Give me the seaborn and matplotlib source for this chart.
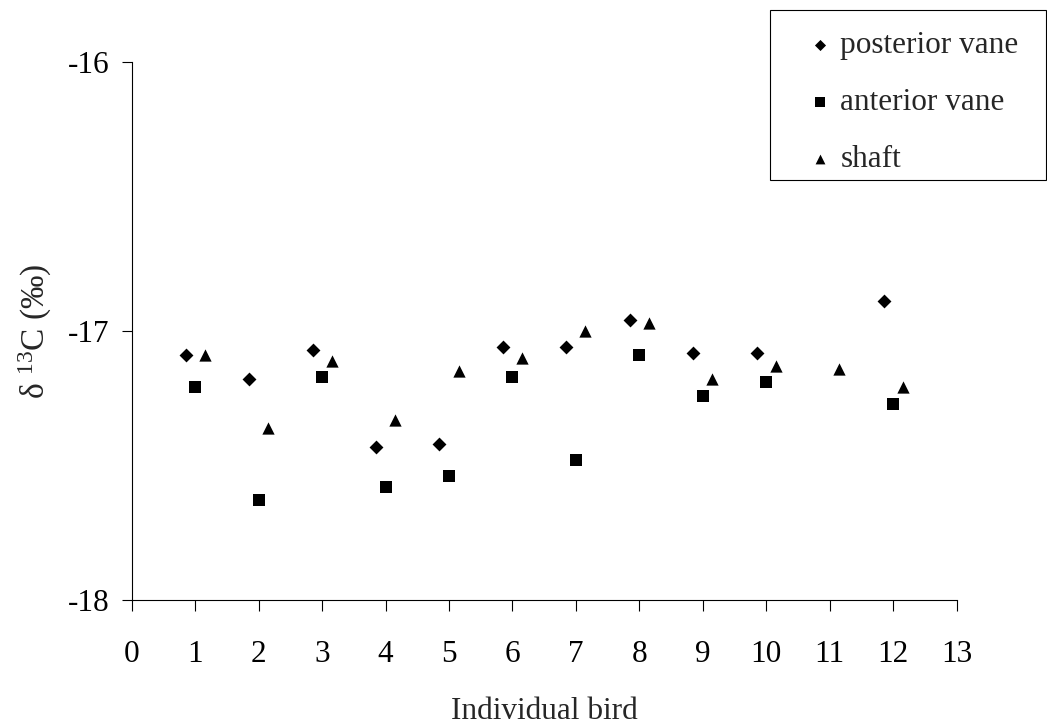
import numpy as np
import pandas as pd
import matplotlib
matplotlib.use("Agg")
import matplotlib.pyplot as plt
from matplotlib.patches import Rectangle
import seaborn as sns

# ---- data ----
birds = [1, 2, 3, 4, 5, 6, 7, 8, 9, 10, 11, 12]
posterior_vane = [-17.09, -17.18, -17.07, -17.43, -17.42, -17.06, -17.06, -16.96, -17.08, -17.08, np.nan, -16.89]
anterior_vane = [-17.21, -17.63, -17.17, -17.58, -17.54, -17.17, -17.48, -17.09, -17.24, -17.19, np.nan, -17.27]
shaft = [-17.09, -17.36, -17.11, -17.33, -17.15, -17.10, -17.00, -16.97, -17.18, -17.13, -17.14, -17.21]
series_names = ["posterior vane", "anterior vane", "shaft"]
x_ticks = list(range(0, 14))
y_ticks = [-18, -17, -16]

# ---- styling ----
sns.set_style("ticks")
plt.rcParams["font.family"] = ["Liberation Serif", "DejaVu Serif"]
plt.rcParams["mathtext.fontset"] = "custom"
plt.rcParams["mathtext.rm"] = "Liberation Serif"
plt.rcParams["mathtext.it"] = "Liberation Serif:italic"

FS = 22.5
markers = {"posterior vane": "D", "anterior vane": "s", "shaft": "^"}
sizes = {"posterior vane": 50, "anterior vane": 72, "shaft": 78}
dodge = {"posterior vane": -0.15, "anterior vane": 0.0, "shaft": 0.15}

frames = []
for name, vals in zip(series_names, [posterior_vane, anterior_vane, shaft]):
    frames.append(pd.DataFrame({"bird": birds, "d13C": vals, "part": name}))
df = pd.concat(frames, ignore_index=True).dropna()
df["xpos"] = df["bird"] + df["part"].map(dodge)

W, H = 1047, 727
fig = plt.figure(figsize=(W / 100, H / 100), dpi=100)
ax = fig.add_axes([131.7 / W, 1 - 600 / H, (956.7 - 131.7) / W, (600 - 62) / H])

for name in series_names:
    sub = df[df["part"] == name]
    sns.scatterplot(data=sub, x="xpos", y="d13C", marker=markers[name], s=sizes[name],
                    color="black", linewidth=0, ax=ax, label=name, zorder=3)

ax.set_xlim(0, 13)
ax.set_ylim(-18, -16)
ax.set_xticks(x_ticks)
ax.set_yticks(y_ticks)
ax.set_xticklabels([str(t) for t in x_ticks], fontsize=FS)
ax.set_yticklabels([str(t) for t in y_ticks], fontsize=FS)
ax.tick_params(axis="x", direction="out", length=8, width=0.8, pad=21, colors="black")
ax.tick_params(axis="y", direction="out", length=7, width=0.8, pad=9, colors="black")
for s in ["top", "right"]:
    ax.spines[s].set_visible(False)
for s in ["left", "bottom"]:
    ax.spines[s].set_linewidth(0.8)
    ax.spines[s].set_color("black")

ax.set_xlabel("Individual bird", fontsize=FS, labelpad=20)
ax.set_ylabel("δ $^{13}$C (‰)", fontsize=24, labelpad=10)

leg = ax.legend(loc="upper left", bbox_to_anchor=(804.5 / W, 1 - 31 / H),
                bbox_transform=fig.transFigure, frameon=False, fontsize=FS,
                markerscale=0.8, handletextpad=0.15, labelspacing=0.9,
                borderpad=0, handlelength=1.0, borderaxespad=0)

# legend box (as in the reference, reaching the right edge)
fig.patches.append(Rectangle((770 / W, 1 - 180 / H), (1046 - 770) / W, (180 - 10) / H,
                             transform=fig.transFigure, fill=False,
                             edgecolor="black", linewidth=0.8))

fig.savefig("out.png", dpi=100)
